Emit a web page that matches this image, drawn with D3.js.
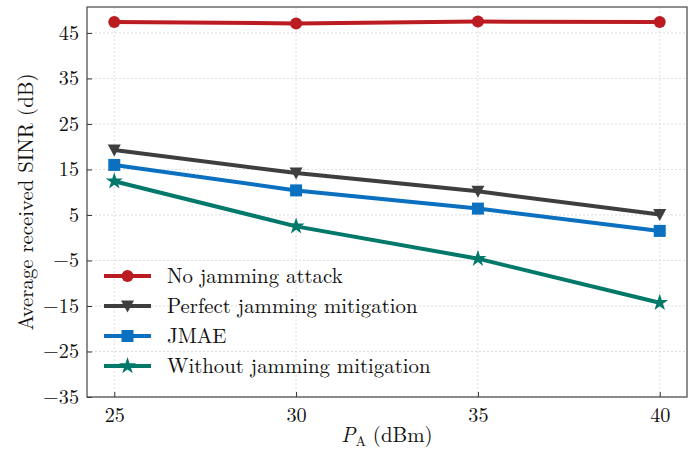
<!DOCTYPE html>
<html>
<head>
<meta charset="utf-8">
<script src="https://cdn.jsdelivr.net/npm/d3@7"></script>
<style>
  body { margin: 0; background: #fff; }
</style>
</head>
<body>
<div id="chart-container"></div>
<script>
// data
const powers = [25, 30, 35, 40];
const noJamming = [47.4, 47.1, 47.5, 47.4];
const perfectMitigation = [19.3, 14.2, 10.2, 5.1];
const jmae = [16.0, 10.4, 6.4, 1.5];
const withoutMitigation = [12.4, 2.5, -4.6, -14.3];
const yTicks = [-35, -25, -15, -5, 5, 15, 25, 35, 45];
const xTicks = [25, 30, 35, 40];

const series = [
  { name: "No jamming attack", values: noJamming, color: "#BA1C21", marker: "circle" },
  { name: "Perfect jamming mitigation", values: perfectMitigation, color: "#3E3E3E", marker: "triangle" },
  { name: "JMAE", values: jmae, color: "#0B70BF", marker: "square" },
  { name: "Without jamming mitigation", values: withoutMitigation, color: "#00796A", marker: "star" },
];

const FONT = "'Latin Modern Roman', 'CMU Serif', 'Liberation Serif', serif";
const INK = "#111";

//Set Dimensions and margins for the chart
const W = 697, H = 455;
const margin = { top: 7, right: 10, bottom: 58, left: 87 };
const width = W - margin.left - margin.right;
const height = H - margin.top - margin.bottom;

const x = d3.scaleLinear().domain([24.25, 40.75]).range([0, width]);
const y = d3.scaleLinear().domain([-35, 50.7]).range([height, 0]);

const svg = d3.select("#chart-container").append("svg")
  .attr("width", W).attr("height", H)
  .append("g")
  .attr("transform", `translate(${margin.left}, ${margin.top})`);

//grid lines
svg.selectAll("xGrid").data(xTicks).join("line")
  .attr("x1", d => x(d)).attr("x2", d => x(d))
  .attr("y1", 0).attr("y2", height)
  .attr("stroke", "#d4d4d4").attr("stroke-width", 0.8)
  .attr("stroke-dasharray", "2,2");
svg.selectAll("yGrid").data(yTicks).join("line")
  .attr("x1", 0).attr("x2", width)
  .attr("y1", d => y(d)).attr("y2", d => y(d))
  .attr("stroke", "#d4d4d4").attr("stroke-width", 0.8)
  .attr("stroke-dasharray", "2,2");

//axes with inward ticks
const xAxis = svg.append("g")
  .attr("transform", `translate(0, ${height})`)
  .call(d3.axisBottom(x).tickValues(xTicks).tickSizeInner(-5).tickSizeOuter(0).tickPadding(11));
const yAxis = svg.append("g")
  .call(d3.axisLeft(y).tickValues(yTicks).tickSizeInner(-5).tickSizeOuter(0).tickPadding(8));
[xAxis, yAxis].forEach(g => {
  g.attr("font-family", null).attr("font-size", null);
  g.select(".domain").remove();
  g.selectAll(".tick line").attr("stroke", "#333").attr("stroke-width", 1);
  g.selectAll(".tick text").style("font-size", "20.2px")
    .style("font-family", FONT).attr("fill", INK);
});

//frame
svg.append("rect")
  .attr("width", width).attr("height", height)
  .attr("fill", "none").attr("stroke", "#444").attr("stroke-width", 1.2);

function drawMarker(g, type, color) {
  if (type === "circle") {
    g.append("circle").attr("r", 6).attr("fill", color);
  } else if (type === "square") {
    g.append("rect").attr("x", -6).attr("y", -6).attr("width", 12).attr("height", 12).attr("fill", color);
  } else if (type === "triangle") {
    g.append("path").attr("d", "M-6.5,-5.5L6.5,-5.5L0,6.5Z").attr("fill", color);
  } else {
    g.append("path").attr("d", d3.symbol(d3.symbolStar, 90)()).attr("fill", color);
  }
}

const line = d3.line().x((d, i) => x(powers[i])).y(d => y(d));

series.forEach(s => {
  svg.append("path").datum(s.values)
    .attr("fill", "none").attr("stroke", s.color)
    .attr("stroke-width", 4).attr("d", line);
  s.values.forEach((v, i) => {
    const g = svg.append("g").attr("transform", `translate(${x(powers[i])}, ${y(v)})`);
    drawMarker(g, s.marker, s.color);
  });
});

//legend
const legend = svg.append("g").attr("transform", "translate(17, 269)");
series.forEach((s, i) => {
  const row = legend.append("g").attr("transform", `translate(0, ${i * 30})`);
  row.append("line").attr("x1", 0).attr("x2", 47).attr("y1", 0).attr("y2", 0)
    .attr("stroke", s.color).attr("stroke-width", 4);
  const m = row.append("g").attr("transform", "translate(23.5, 0)");
  drawMarker(m, s.marker, s.color);
  row.append("text").attr("x", 63).attr("y", 0).attr("dy", "0.32em")
    .style("font-family", FONT).style("fill", INK)
    .style("font-size", "20.8px").text(s.name);
});

//axis labels
svg.append("text")
  .attr("transform", "rotate(-90)")
  .attr("x", -height / 2).attr("y", -margin.left + 26).attr("dy", "0.32em")
  .style("text-anchor", "middle").style("font-size", "20.8px")
  .style("font-family", FONT).style("fill", INK)
  .text("Average received SINR (dB)");

const xl = svg.append("text")
  .attr("x", width / 2).attr("y", height + 45)
  .style("text-anchor", "middle").style("font-size", "20.8px")
  .style("font-family", FONT).style("fill", INK);
xl.append("tspan").style("font-style", "italic").text("P");
xl.append("tspan").attr("dy", 4).style("font-size", "14px").text("A");
xl.append("tspan").attr("dy", -4).text(" (dBm)");
</script>
</body>
</html>
